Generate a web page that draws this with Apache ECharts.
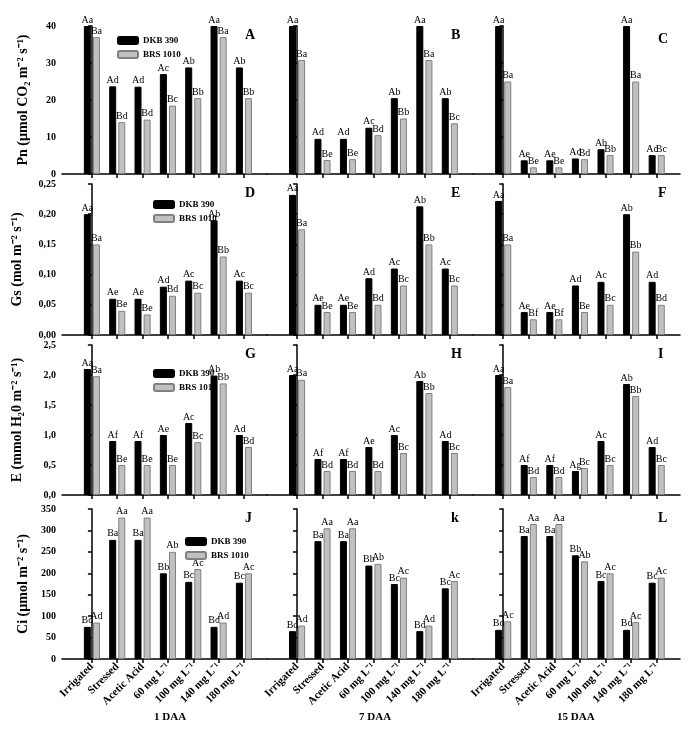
<!DOCTYPE html>
<html>
<head>
<meta charset="utf-8">
<script src="https://cdn.jsdelivr.net/npm/echarts@6/dist/echarts.min.js"></script>
<style>html,body{margin:0;padding:0;background:#fff}#chart{width:700px;height:733px}</style>
</head>
<body>
<div id="chart"></div>
<script>
// treatments and panel days
const categories = ["Irrigated", "Stressed", "Acetic Acid", "60 mg L\u207B\u00B9", "100 mg L\u207B\u00B9", "140 mg L\u207B\u00B9", "180 mg L\u207B\u00B9"];
const days = ["1 DAA", "7 DAA", "15 DAA"];
const panelLetters = [["A", "B", "C"], ["D", "E", "F"], ["G", "H", "I"], ["J", "k", "L"]];

// Pn
const pnDKB = [[40, 23.7, 23.6, 27, 28.8, 40, 28.8], [40, 9.5, 9.5, 12.5, 20.5, 40, 20.5], [40, 3.7, 3.7, 4.2, 6.7, 40, 5.1]];
const pnBRS = [[37, 14, 14.7, 18.5, 20.5, 37, 20.5], [30.8, 3.8, 4.0, 10.5, 15, 30.8, 13.7], [25, 1.8, 1.8, 4.0, 5.1, 25, 5.1]];
const pnDKBLab = [["Aa","Ad","Ad","Ac","Ab","Aa","Ab"], ["Aa","Ad","Ad","Ac","Ab","Aa","Ab"], ["Aa","Ae","Ae","Ad","Ab","Aa","Ac"]];
const pnBRSLab = [["Ba","Bd","Bd","Bc","Bb","Ba","Bb"], ["Ba","Be","Be","Bd","Bb","Ba","Bc"], ["Ba","Be","Be","Bd","Bb","Ba","Bc"]];
// Gs
const gsDKB = [[0.20, 0.06, 0.06, 0.08, 0.09, 0.19, 0.09], [0.232, 0.05, 0.05, 0.094, 0.11, 0.213, 0.11], [0.222, 0.038, 0.038, 0.082, 0.088, 0.20, 0.088]];
const gsBRS = [[0.15, 0.04, 0.034, 0.065, 0.07, 0.13, 0.07], [0.175, 0.038, 0.038, 0.05, 0.082, 0.15, 0.082], [0.15, 0.026, 0.026, 0.038, 0.05, 0.138, 0.05]];
const gsDKBLab = [["Aa","Ae","Ae","Ad","Ac","Ab","Ac"], ["Aa","Ae","Ae","Ad","Ac","Ab","Ac"], ["Aa","Ae","Ae","Ad","Ac","Ab","Ad"]];
const gsBRSLab = [["Ba","Be","Be","Bd","Bc","Bb","Bc"], ["Ba","Be","Be","Bd","Bc","Bb","Bc"], ["Ba","Bf","Bf","Be","Bc","Bb","Bd"]];
// E
const eDKB = [[2.1, 0.9, 0.9, 1.0, 1.2, 1.99, 1.0], [2.0, 0.6, 0.6, 0.8, 1.0, 1.9, 0.9], [2.0, 0.5, 0.5, 0.4, 0.9, 1.85, 0.8]];
const eBRS = [[1.98, 0.5, 0.5, 0.5, 0.88, 1.86, 0.8], [1.92, 0.4, 0.4, 0.4, 0.7, 1.7, 0.7], [1.8, 0.3, 0.3, 0.45, 0.5, 1.65, 0.5]];
const eDKBLab = [["Aa","Af","Af","Ae","Ac","Ab","Ad"], ["Aa","Af","Af","Ae","Ac","Ab","Ad"], ["Aa","Af","Af","Ag","Ac","Ab","Ad"]];
const eBRSLab = [["Ba","Be","Be","Be","Bc","Bb","Bd"], ["Ba","Bd","Bd","Bd","Bc","Bb","Bc"], ["Ba","Bd","Bd","Bc","Bc","Bb","Bc"]];
// Ci
const ciDKB = [[75, 278, 278, 200, 180, 75, 178], [65, 275, 275, 218, 175, 65, 165], [68, 287, 287, 242, 182, 68, 178]];
const ciBRS = [[85, 330, 330, 250, 210, 85, 200], [78, 305, 305, 222, 190, 78, 182], [88, 315, 315, 228, 200, 86, 190]];
const ciDKBLab = [["Bd","Ba","Ba","Bb","Bc","Bd","Bc"], ["Bd","Ba","Ba","Bb","Bc","Bd","Bc"], ["Bd","Ba","Ba","Bb","Bc","Bd","Bc"]];
const ciBRSLab = [["Ad","Aa","Aa","Ab","Ac","Ad","Ac"], ["Ad","Aa","Aa","Ab","Ac","Ad","Ac"], ["Ac","Aa","Aa","Ab","Ac","Ac","Ac"]];

const yNames = ["Pn (\u00B5mol CO\u2082 m\u207B\u00B2 s\u207B\u00B9)", "Gs (mol m\u207B\u00B2 s\u207B\u00B9)", "E (mmol H\u20820 m\u207B\u00B2 s\u207B\u00B9)", "Ci (\u00B5mol m\u207B\u00B2 s\u207B\u00B9)"];
const yMax = [40, 0.25, 2.5, 350];
const yStep = [10, 0.05, 0.5, 50];
const yFmt = [v => String(v), v => v.toFixed(2).replace(".", ","), v => v.toFixed(1).replace(".", ","), v => String(v)];
const rows = [[pnDKB, pnBRS, pnDKBLab, pnBRSLab], [gsDKB, gsBRS, gsDKBLab, gsBRSLab], [eDKB, eBRS, eDKBLab, eBRSLab], [ciDKB, ciBRS, ciDKBLab, ciBRSLab]];

const font = "Liberation Serif";
const rowTop = [26, 184, 345, 509];
const rowH = [148, 151, 150, 150];
const colLeft = [62, 267, 473];
const colW = [205, 206, 207];
const legendPos = [[112, 31], [148, 195], [148, 364], [180, 532]];

const grid = [], xAxis = [], yAxis = [], series = [], graphic = [], legend = [];
rows.forEach((r, ri) => {
  for (let c = 0; c < 3; c++) {
    const idx = ri * 3 + c;
    grid.push({ left: colLeft[c], top: rowTop[ri], width: colW[c], height: rowH[ri] });
    xAxis.push({
      type: "value", gridIndex: idx, min: -1.18, max: 6.91,
      splitLine: { show: false },
      axisLine: { show: true, onZero: false, lineStyle: { color: "#000", width: 1.5 } },
      axisTick: { show: true, customValues: [0, 1, 2, 3, 4, 5, 6], length: 4, lineStyle: { color: "#000", width: 1.5 } },
      axisLabel: {
        show: ri === 3, customValues: [0, 1, 2, 3, 4, 5, 6], rotate: 45, margin: 6,
        formatter: v => categories[Math.round(v)], fontFamily: font, fontWeight: "bold", fontSize: 11, color: "#000"
      }
    });
    yAxis.push({
      type: "value", gridIndex: idx, min: 0, max: yMax[ri], interval: yStep[ri],
      name: c === 0 ? yNames[ri] : "", nameLocation: "middle", nameGap: ri === 1 || ri === 2 ? 38 : 32,
      nameTextStyle: { fontFamily: font, fontWeight: "bold", fontSize: 14, color: "#000" },
      splitLine: { show: false },
      axisLine: { show: true, lineStyle: { color: "#000", width: 1.5 } },
      axisTick: { show: true, length: 4, lineStyle: { color: "#000", width: 1.5 } },
      axisLabel: { show: c === 0, formatter: yFmt[ri], fontFamily: font, fontWeight: "bold", fontSize: 10, color: "#000", margin: 6 }
    });
    const mk = (vals, labs, name, color, border) => ({
      type: "bar", name, xAxisIndex: idx, yAxisIndex: idx,
      data: vals[c].map((v, i) => [i, v]), barWidth: 7, barGap: "30%",
      itemStyle: { color, borderColor: border, borderWidth: 1 },
      label: { show: true, position: "top", distance: 1, formatter: p => labs[c][p.dataIndex], fontFamily: font, fontSize: 10, color: "#000" },
      animation: false
    });
    series.push(mk(r[0], r[2], "DKB 390", "#000", "#000"));
    series.push(mk(r[1], r[3], "BRS 1010", "#c0c0c0", "#808080"));
    graphic.push({ type: "text", left: colLeft[c] + colW[c] - 22, top: rowTop[ri] + (ri === 0 && c === 2 ? 6 : 2),
      style: { text: panelLetters[ri][c], font: "bold 14px " + font, fill: "#000" } });
  }
  legend.push({ left: legendPos[ri][0], top: legendPos[ri][1], orient: "vertical", itemWidth: 20, itemHeight: 7, itemGap: 5,
    data: ["DKB 390", "BRS 1010"], textStyle: { fontFamily: font, fontWeight: "bold", fontSize: 9, color: "#000" } });
});
days.forEach((d, c) => {
  graphic.push({ type: "text", left: colLeft[c] + 92 - (c === 2 ? 8 : 0), top: 712, style: { text: d, font: "bold 11px " + font, fill: "#000" } });
});

const chart = echarts.init(document.getElementById("chart"));
chart.setOption({ animation: false, grid, xAxis, yAxis, series, legend, graphic });
</script>
</body>
</html>
